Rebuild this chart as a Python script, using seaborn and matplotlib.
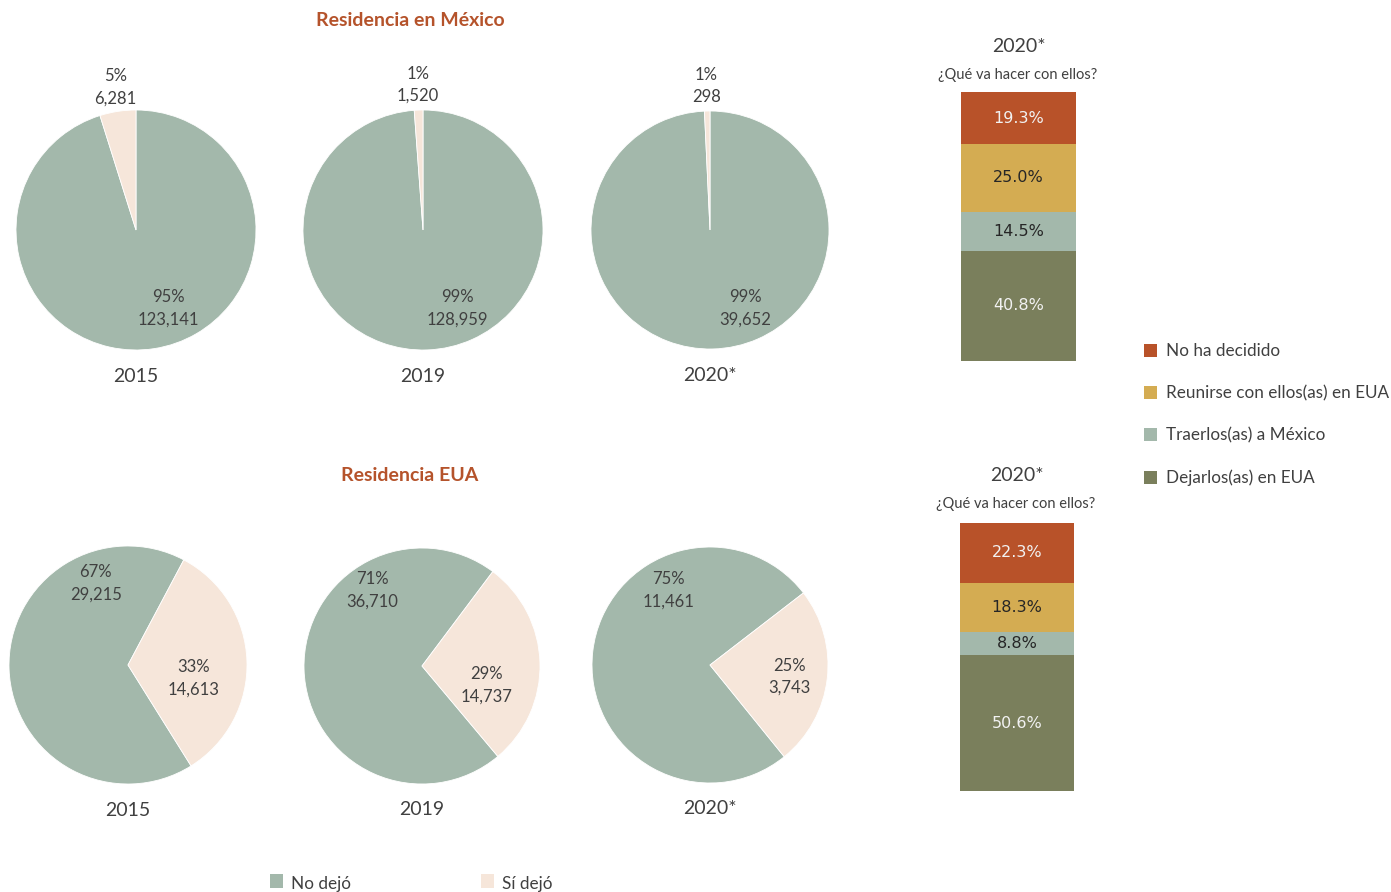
import matplotlib
matplotlib.use("Agg")
import matplotlib.pyplot as plt
from matplotlib.patches import Rectangle
import numpy as np
import pandas as pd
import seaborn as sns

# ---- data ----
years = ["2015", "2019", "2020*"]
pie_groups = ["No dejó", "Sí dejó"]

mx_no_dejo = [123141, 128959, 39652]
mx_si_dejo = [6281, 1520, 298]
mx_no_pct = ["95%", "99%", "99%"]
mx_si_pct = ["5%", "1%", "1%"]

us_no_dejo = [29215, 36710, 11461]
us_si_dejo = [14613, 14737, 3743]
us_no_pct = ["67%", "71%", "75%"]
us_si_pct = ["33%", "29%", "25%"]

plan_categories = ["Dejarlos(as) en EUA", "Traerlos(as) a México",
                   "Reunirse con ellos(as) en EUA", "No ha decidido"]
plan_mx = [40.8, 14.5, 25.0, 19.3]
plan_us = [50.6, 8.8, 18.3, 22.3]

# ---- style ----
sns.set_theme(style="white")
plt.rcParams["font.family"] = ["Lato", "DejaVu Sans"]

GREEN = "#A3B8AB"
PEACH = "#F6E6DA"
RUST = "#B85229"
GOLD = "#D4AC52"
OLIVE = "#7A7F5C"
TEXT = "#404040"
TITLE = "#B5532B"
pie_colors = [GREEN, PEACH]
plan_colors = [OLIVE, GREEN, GOLD, RUST]
plan_text = ["#F2F2F2", "#262626", "#262626", "#F2F2F2"]

W, H = 1391, 892
fig = plt.figure(figsize=(W / 100, H / 100), dpi=100)
fig.patch.set_facecolor("white")


def px_axes(x0, y0, w, h):
    return fig.add_axes([x0 / W, 1 - (y0 + h) / H, w / W, h / H])


def ftext(x, y, s, **kw):
    fig.text(x / W, 1 - y / H, s, **kw)


# pie layout: centre x, centre y, radius, clockwise start angle from 12 o'clock,
# label offsets in radius units for (No dejó, Sí dejó)
top_layout = [
    (136, 230, 120, 0, (0.27, -0.65), (-0.17, 1.19)),
    (423, 230, 120, 0, (0.29, -0.65), (-0.04, 1.21)),
    (710, 230, 119, 0, (0.30, -0.66), (-0.03, 1.21)),
]
bot_layout = [
    (128, 665, 119, 148, (-0.27, 0.69), (0.55, -0.11)),
    (422, 666, 118, 140, (-0.42, 0.64), (0.55, -0.16)),
    (710, 665, 118, 141, (-0.35, 0.63), (0.67, -0.10)),
]


def draw_pies(layout, no_vals, si_vals, no_pct, si_pct):
    for i, (cx, cy, r, start, no_off, si_off) in enumerate(layout):
        ax = px_axes(cx - r, cy - r, 2 * r, 2 * r)
        ax.pie([no_vals[i], si_vals[i]], colors=pie_colors, startangle=90 - start,
               counterclock=False, radius=1,
               wedgeprops=dict(linewidth=0.6, edgecolor="white"))
        ax.set_xlim(-1, 1)
        ax.set_ylim(-1, 1)
        ax.set_axis_off()
        ax.text(no_off[0], no_off[1], f"{no_pct[i]}\n{no_vals[i]:,}", ha="center",
                va="center", fontsize=12, color=TEXT, linespacing=1.5)
        ax.text(si_off[0], si_off[1], f"{si_pct[i]}\n{si_vals[i]:,}", ha="center",
                va="center", fontsize=12, color=TEXT, linespacing=1.5)
        ax.text(0, -1.22, years[i], ha="center", va="center", fontsize=14, color=TEXT)


draw_pies(top_layout, mx_no_dejo, mx_si_dejo, mx_no_pct, mx_si_pct)
draw_pies(bot_layout, us_no_dejo, us_si_dejo, us_no_pct, us_si_pct)

ftext(410, 21, "Residencia en México", ha="center", va="center", fontsize=14,
      fontweight="bold", color=TITLE)
ftext(410, 475, "Residencia EUA", ha="center", va="center", fontsize=14,
      fontweight="bold", color=TITLE)


def draw_stack(x0, y0, w, h, values, head_y):
    ax = px_axes(x0, y0, w, h)
    df = pd.DataFrame({"g": ["2020*"] * len(values), "v": values})
    bottoms = np.concatenate([[0], np.cumsum(values)[:-1]])
    for k in range(len(values)):
        sns.barplot(data=df.iloc[[k]], x="g", y="v", color=plan_colors[k],
                    bottom=bottoms[k], width=1.0, saturation=1, ax=ax,
                    linewidth=0, errorbar=None)
        ax.text(0, bottoms[k] + values[k] / 2, f"{values[k]:.1f}%", ha="center",
                va="center", fontsize=11.5, color=plan_text[k],
                fontfamily="DejaVu Sans")
    ax.set_xlim(-0.5, 0.5)
    ax.set_ylim(0, 100)
    ax.set_axis_off()
    cx = x0 + w / 2
    ftext(cx, head_y, "2020*", ha="center", va="center", fontsize=14, color=TEXT)
    ftext(cx - 1, head_y + 29, "¿Qué va hacer con ellos?", ha="center", va="center",
          fontsize=10.5, color=TEXT)


draw_stack(961, 91, 115, 270, plan_mx, 46)
draw_stack(960, 523, 114, 268, plan_us, 475)

# legend for plan categories (top item first)
leg_y = [350, 392, 434, 477]
for k, y in zip(range(3, -1, -1), leg_y):
    fig.patches.append(Rectangle(((1144) / W, 1 - (y + 7) / H), 13 / W, 13 / H,
                                 transform=fig.transFigure, facecolor=plan_colors[k],
                                 edgecolor="none"))
    ftext(1166, y + 1, plan_categories[k], ha="left", va="center", fontsize=12.3,
          color=TEXT)

# legend for pie groups
for x_sq, label, col in [(270, pie_groups[0], GREEN), (481, pie_groups[1], PEACH)]:
    fig.patches.append(Rectangle((x_sq / W, 1 - 888 / H), 13 / W, 14 / H,
                                 transform=fig.transFigure, facecolor=col,
                                 edgecolor="none"))
    ftext(x_sq + 21, 884, label, ha="left", va="center", fontsize=12.3, color=TEXT)

fig.savefig("out.png", dpi=100, facecolor="white")
